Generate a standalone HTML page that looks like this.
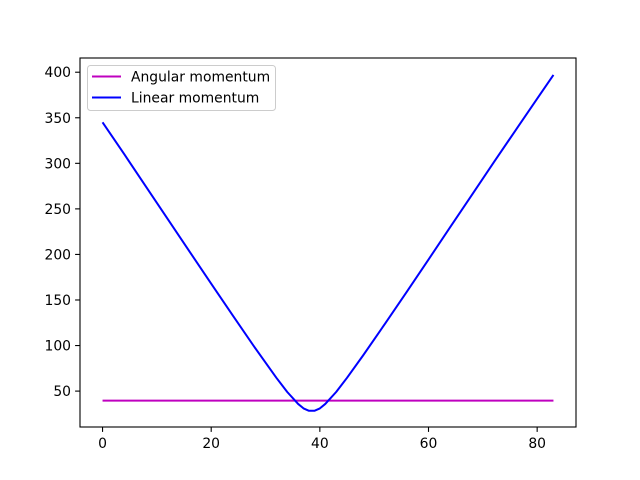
<!DOCTYPE html>
<html><head><meta charset="utf-8"><style>body{margin:0;background:#fff}svg{display:block;font-family:"DejaVu Sans","Liberation Sans",sans-serif}</style></head>
<body>
<svg id="chart" width="640" height="480">
<rect x="0" y="0" width="640" height="480" fill="#fff"/>
<g id="plot"></g>
</svg>
<script>
const linearX = [0,4,8,12,16,20,24,28,32,34,36,37,38,39,40,41,43,45,48,52,56,60,64,68,72,76,80,83];
const linearY = [345,310,274.4,238.8,203.3,167.9,132.8,98,64.6,49,35.9,31,28.4,28.4,31,35.9,49,64.6,89.5,124,159,194.4,230,265.5,301,336,371,397];
const angularX = [0,83];
const angularY = [39.5,39.5];
const xTicks = [0,20,40,60,80];
const yTicks = [50,100,150,200,250,300,350,400];

const L=80,R=576,T=58,B=427;
const xMin=-4.15,xMax=87.15,yMin=10.6,yMax=415.6;
const sx=v=>L+(v-xMin)/(xMax-xMin)*(R-L);
const sy=v=>B-(v-yMin)/(yMax-yMin)*(B-T);
const NS='http://www.w3.org/2000/svg';
const g=document.getElementById('plot');
function mk(t,a,parent){const e=document.createElementNS(NS,t);for(const k in a)e.setAttribute(k,a[k]);(parent||g).appendChild(e);return e;}

function series(xs,ys,color,name){
  const p=mk('polyline',{points:xs.map((x,i)=>sx(x)+','+sy(ys[i])).join(' '),fill:'none',stroke:color,'stroke-width':2,'stroke-linejoin':'round'});
  
  
}
series(angularX,angularY,'#bf00bf','angular-momentum-line');
series(linearX,linearY,'#0000ff','linear-momentum-line');

xTicks.forEach(v=>{
  const x=sx(v);
  const t=mk('line',{x1:x,x2:x,y1:B,y2:B+4.9,stroke:'#000','stroke-width':1.1});
  
  
  const l=mk('text',{x:x,y:B+21,'font-size':13.9,'text-anchor':'middle'});
  l.textContent=v;
  
  
});
yTicks.forEach(v=>{
  const y=sy(v);
  const t=mk('line',{x1:L-4.9,x2:L,y1:y,y2:y,stroke:'#000','stroke-width':1.1});
  
  
  const l=mk('text',{x:L-9,y:y+5,'font-size':13.9,'text-anchor':'end'});
  l.textContent=v;
  
  
});
const frame=mk('rect',{x:L,y:T,width:R-L,height:B-T,fill:'none',stroke:'#000','stroke-width':1.1});


</script>
<svg style="position:absolute;left:0;top:0" width="640" height="480">
<rect x="87.5" y="65.5" width="188" height="45" rx="3" fill="#fff" fill-opacity="0.8" stroke="#ccc"/>
<g>
<line x1="92" y1="76.5" x2="121" y2="76.5" stroke="#bf00bf" stroke-width="2"/>
<text x="131" y="81.5" font-size="13.9" font-family="DejaVu Sans,sans-serif">Angular momentum</text></g>
<g>
<line x1="92" y1="97.5" x2="121" y2="97.5" stroke="#0000ff" stroke-width="2"/>
<text x="131" y="102.5" font-size="13.9" font-family="DejaVu Sans,sans-serif">Linear momentum</text></g>
</svg>
</body></html>
